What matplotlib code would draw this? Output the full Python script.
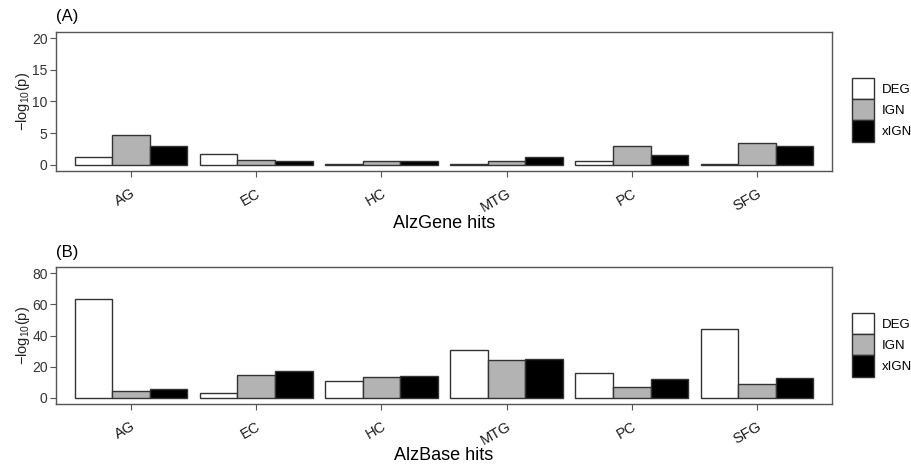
import numpy as np
import matplotlib
matplotlib.use("Agg")
import matplotlib.pyplot as plt
from matplotlib.patches import Patch

plt.rcParams["font.family"] = ["Liberation Sans", "DejaVu Sans"]
plt.rcParams["mathtext.fontset"] = "custom"
plt.rcParams["mathtext.rm"] = "Liberation Sans"

regions = ["AG", "EC", "HC", "MTG", "PC", "SFG"]
methods = ["DEG", "IGN", "xIGN"]
colors = ["white", "#b3b3b3", "black"]

# -log10(p), AlzGene hits
alzgene_deg = [1.27, 1.68, 0.08, 0.08, 0.63, 0.08]
alzgene_ign = [4.76, 0.73, 0.60, 0.57, 2.95, 3.38]
alzgene_xign = [2.95, 0.63, 0.60, 1.27, 1.53, 2.95]

# -log10(p), AlzBase hits
alzbase_deg = [63.5, 2.9, 10.8, 30.6, 16.2, 43.9]
alzbase_ign = [4.4, 14.8, 13.3, 24.3, 7.2, 8.9]
alzbase_xign = [5.9, 17.1, 14.1, 25.1, 12.0, 12.7]

panels = [
    ("(A)", "AlzGene hits", [alzgene_deg, alzgene_ign, alzgene_xign], [0, 5, 10, 15, 20], (-1, 21)),
    ("(B)", "AlzBase hits", [alzbase_deg, alzbase_ign, alzbase_xign], [0, 20, 40, 60, 80], (-4, 84)),
]

W, H = 911, 465
fig = plt.figure(figsize=(W / 100, H / 100), dpi=100)

# axes boxes in pixels: left, top, right, bottom
boxes = [(56, 32, 832, 171), (56, 267, 832, 404)]
legend_tops = [78, 313]

x = np.arange(1, len(regions) + 1)
bw = 0.3
for (tag, xlab, series, yt, ylim), (l, t, r, b), lt in zip(panels, boxes, legend_tops):
    ax = fig.add_axes([l / W, 1 - b / H, (r - l) / W, (b - t) / H])
    for i, vals in enumerate(series):
        ax.bar(x + (i - 1) * bw, vals, width=bw, color=colors[i],
               edgecolor="#333333", linewidth=1.0)
    ax.set_xlim(0.4, 6.6)
    ax.set_ylim(*ylim)
    ax.set_yticks(yt)
    ax.set_xticks(x)
    ax.set_xticklabels(regions, rotation=30, ha="right", rotation_mode="anchor",
                       fontsize=10.5, color="#1a1a1a")
    ax.tick_params(axis="y", labelsize=10, labelcolor="#333333", length=4,
                   color="#555555", pad=2)
    ax.tick_params(axis="x", length=4, color="#555555", pad=7)
    for s in ax.spines.values():
        s.set_color("#555555")
        s.set_linewidth(1.0)
    ax.set_xlabel(xlab, fontsize=13, color="black", va="center")
    ax.xaxis.set_label_coords(0.5, -0.375)
    ax.set_ylabel("$-$log$_{10}$(p)", fontsize=10.5, color="#222222", va="center")
    ax.yaxis.set_label_coords(-0.043, 0.5)
    fig.text(l / W, 1 - (t - 15) / H, tag, fontsize=12, va="center", ha="left")

    handles = [Patch(facecolor=c, edgecolor="#333333", linewidth=1.0) for c in colors]
    fig.legend(handles, methods, loc="upper left",
               bbox_to_anchor=(852 / W, 1 - lt / H), frameon=False, fontsize=9.5,
               handlelength=1.65, handleheight=2.1, labelspacing=0.0,
               handletextpad=0.6, borderpad=0, borderaxespad=0)

fig.savefig("out.png", dpi=100)
